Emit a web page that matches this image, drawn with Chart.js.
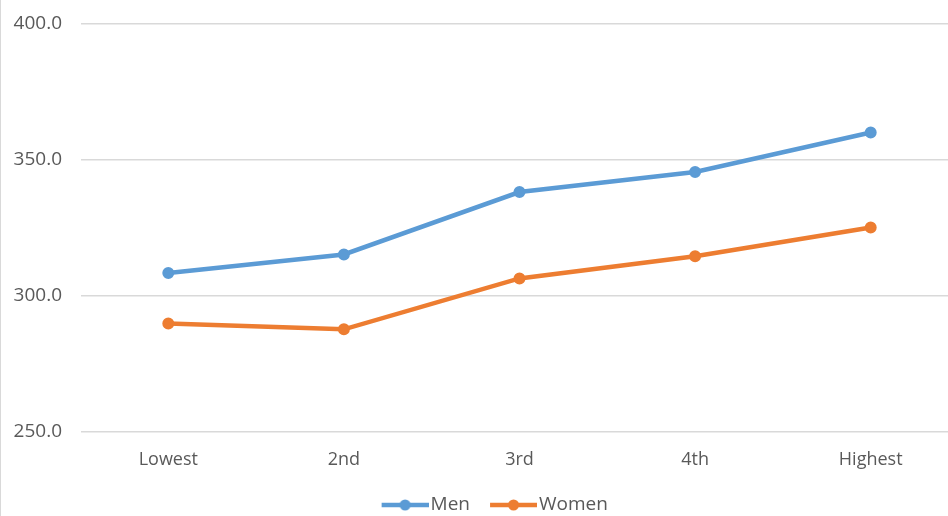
<!DOCTYPE html>
<html>
<head>
<meta charset="utf-8">
<script src="https://cdn.jsdelivr.net/npm/chart.js@4"></script>
<style>
  html, body { margin: 0; padding: 0; background: #fff; overflow: hidden; }
  #wrap { position: absolute; left: 0; top: 0; width: 981px; height: 516px; border-left: 1px solid #d9d9d9; }
</style>
</head>
<body>
<div id="wrap"><canvas id="chart"></canvas></div>
<script>
// Score by income group, men vs women
const categories = ['Lowest', '2nd', '3rd', '4th', 'Highest'];
const menValues = [308.4, 315.2, 338.1, 345.5, 360.0];
const womenValues = [289.8, 287.7, 306.4, 314.5, 325.1];
const yTicks = [250, 300, 350, 400];

const MEN_COLOR = '#5B9BD5';
const WOMEN_COLOR = '#ED7D31';
const TEXT_COLOR = '#595959';
const FONT = '"Open Sans", sans-serif';

// Legend symbol: a short line with a dot in the middle.
// The left margin is transparent so the symbol sits close to its text.
function legendSymbol(color) {
  const c = document.createElement('canvas');
  c.width = 61; c.height = 14;
  const g = c.getContext('2d');
  g.strokeStyle = color;
  g.lineWidth = 4.5;
  g.beginPath(); g.moveTo(14, 7); g.lineTo(61, 7); g.stroke();
  g.fillStyle = color;
  g.beginPath(); g.arc(37.5, 7, 5.5, 0, Math.PI * 2); g.fill();
  return c;
}

// Centre the legend under the whole canvas rather than the padded width
const legendCentre = {
  id: 'legendCentre',
  afterLayout(chart) {
    const lg = chart.legend;
    if (!lg) return;
    const shift = chart.width / 2 - (lg.left + lg.right) / 2;
    lg.left += shift;
    lg.right += shift;
  }
};

const series = [
  { label: 'Men', data: menValues, color: MEN_COLOR },
  { label: 'Women', data: womenValues, color: WOMEN_COLOR }
];

new Chart(document.getElementById('chart'), {
  type: 'line',
  data: {
    labels: categories,
    datasets: series.map(s => ({
      label: s.label,
      data: s.data,
      borderColor: s.color,
      backgroundColor: s.color,
      borderWidth: 4.5,
      pointRadius: 5,
      pointBorderWidth: 2,
      pointBackgroundColor: s.color,
      pointBorderColor: s.color,
      tension: 0,
      fill: false
    }))
  },
  plugins: [legendCentre],
  options: {
    responsive: true,
    maintainAspectRatio: false,
    animation: false,
    layout: { padding: { top: 23.5, right: 23.5, bottom: 0, left: 0 } },
    plugins: {
      tooltip: { enabled: false },
      legend: {
        position: 'bottom',
        maxHeight: 34,
        labels: {
          usePointStyle: true,
          pointStyleWidth: 46,
          boxHeight: 14,
          padding: 13.5,
          color: TEXT_COLOR,
          font: { family: FONT, size: 19 },
          generateLabels: chart => chart.data.datasets.map((ds, i) => ({
            text: ds.label,
            fillStyle: ds.borderColor,
            strokeStyle: ds.borderColor,
            lineWidth: 0,
            pointStyle: legendSymbol(ds.borderColor),
            fontColor: TEXT_COLOR,
            datasetIndex: i,
            hidden: false
          }))
        }
      }
    },
    scales: {
      x: {
        offset: true,
        grid: { display: false, drawTicks: false },
        border: { display: false },
        ticks: { color: TEXT_COLOR, font: { family: FONT, size: 18 }, padding: 17 },
        afterFit: s => { s.height = 50; s.paddingLeft = 0; s.paddingRight = 0; }
      },
      y: {
        min: 250,
        max: 400,
        afterBuildTicks: s => { s.ticks = yTicks.map(v => ({ value: v })); },
        grid: { color: '#d9d9d9', lineWidth: 1.5, drawTicks: false },
        border: { display: false },
        ticks: {
          color: TEXT_COLOR,
          font: { family: FONT, size: 19 },
          padding: 18.5,
          callback: v => Number(v).toFixed(1)
        },
        afterFit: s => { s.width = 79.5; s.paddingTop = 0; s.paddingBottom = 0; }
      }
    }
  }
});
</script>
</body>
</html>
